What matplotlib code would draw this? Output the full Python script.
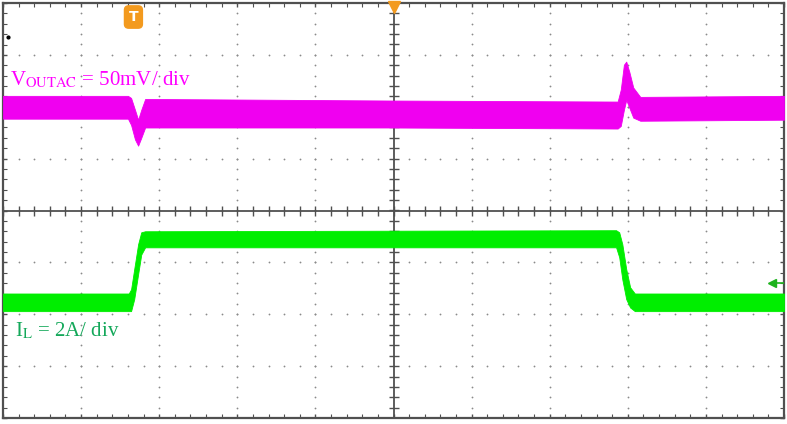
import numpy as np
import matplotlib
matplotlib.use("Agg")
import matplotlib.pyplot as plt
from matplotlib.ticker import MultipleLocator

# ---- data (in screen divisions: x 0..10, y -4..4) ----
v_t = [0.00, 1.60, 1.64, 1.69, 1.73, 1.77, 1.82, 1.88, 4.96, 7.87, 7.91, 7.95, 7.98, 8.02, 8.07, 8.16, 10.0]
v_top = [2.21, 2.21, 2.17, 1.94, 1.75, 1.94, 2.15, 2.15, 2.12, 2.10, 2.33, 2.81, 2.87, 2.67, 2.37, 2.19, 2.21]
v_bot = [1.77, 1.77, 1.65, 1.37, 1.25, 1.40, 1.60, 1.60, 1.60, 1.58, 1.63, 1.94, 2.13, 1.98, 1.79, 1.73, 1.75]

i_t = [0.00, 1.61, 1.64, 1.68, 1.73, 1.77, 1.82, 7.85, 7.89, 7.93, 7.98, 8.03, 8.09, 10.0]
i_top = [-1.60, -1.60, -1.52, -1.13, -0.65, -0.42, -0.40, -0.38, -0.42, -0.65, -1.13, -1.48, -1.60, -1.60]
i_bot = [-1.94, -1.94, -1.94, -1.71, -1.23, -0.85, -0.71, -0.71, -0.90, -1.33, -1.71, -1.87, -1.94, -1.94]

v_label = r'V$_{\mathrm{OUTAC}}$ = 50mV/ div'
i_label = r'I$_{\mathrm{L}}$ = 2A/ div'

plt.rcParams['mathtext.fontset'] = 'stix'
fig = plt.figure(figsize=(7.87, 4.24), dpi=100)
ax = fig.add_axes([3/787, 6/424, 781/787, 415/424])
ax.set_xlim(0, 10)
ax.set_ylim(-4, 4)

# grid dots
gx = np.arange(0, 10.001, 0.2)
gy = np.arange(-4, 4.001, 0.2)
for xv in range(1, 10):
    if xv == 5:
        continue
    ax.plot(np.full_like(gy, xv), gy, ls='none', marker='o', ms=1.3, mfc='#8a8a8a', mec='none', zorder=1)
for yv in range(-3, 4):
    if yv == 0:
        continue
    ax.plot(gx, np.full_like(gx, yv), ls='none', marker='o', ms=1.3, mfc='#8a8a8a', mec='none', zorder=1)

# center cross
ax.axvline(5, color='#505050', lw=1.3, zorder=2)
ax.axhline(0, color='#505050', lw=1.3, zorder=2)
ax.plot(gx, np.zeros_like(gx), ls='none', marker='|', ms=7, mew=1.0, color='#505050', zorder=2)
ax.plot(np.full_like(gy, 5), gy, ls='none', marker='_', ms=7, mew=1.0, color='#505050', zorder=2)

# traces
ax.fill_between(v_t, v_bot, v_top, color='#F000F0', lw=0.6, ec='#F000F0', zorder=3)
ax.fill_between(i_t, i_bot, i_top, color='#00EE00', lw=0.6, ec='#00EE00', zorder=3)

# labels
ax.text(0.09, 2.42, v_label, color='#FF00FF', fontsize=15, family='Liberation Serif', va='baseline', zorder=4)
ax.text(0.15, -2.42, i_label, color='#14A85A', fontsize=15, family='Liberation Serif', va='baseline', zorder=4)

# markers
ax.text(1.67, 3.73, 'T', color='white', fontsize=10, fontweight='bold', ha='center', va='center',
        bbox=dict(boxstyle='round,pad=0.3', fc='#F39A1E', ec='#F39A1E'), zorder=5)
ax.plot([5], [3.93], marker='v', ms=9, color='#F39A1E', clip_on=False, zorder=5)
ax.plot([9.85], [-1.40], marker='<', ms=6, color='#1DB31D', zorder=5)
ax.plot([9.85, 10.0], [-1.40, -1.40], color='#1DB31D', lw=1.2, zorder=5)
ax.plot([0.06], [3.35], marker='o', ms=2, color='black', zorder=5)

# border with ticks
for s in ax.spines.values():
    s.set_color('#505050')
    s.set_linewidth(1.6)
ax.xaxis.set_major_locator(MultipleLocator(1))
ax.xaxis.set_minor_locator(MultipleLocator(0.2))
ax.yaxis.set_major_locator(MultipleLocator(1))
ax.yaxis.set_minor_locator(MultipleLocator(0.2))
ax.tick_params(which='both', direction='in', top=True, right=True, bottom=True, left=True,
               labelbottom=False, labelleft=False, color='#505050')
ax.tick_params(which='major', length=3, width=1)
ax.tick_params(which='minor', length=3, width=0.8)

fig.savefig('out.png', dpi=100, facecolor='white')
